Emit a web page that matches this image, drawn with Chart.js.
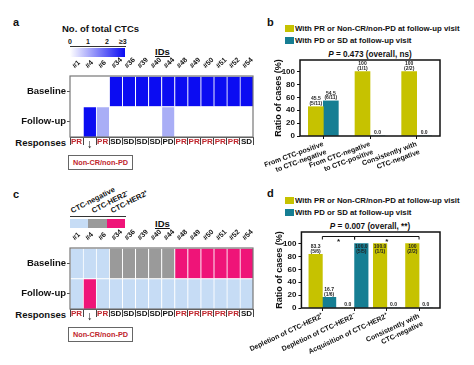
<!DOCTYPE html>
<html>
<head>
<meta charset="utf-8">
<script src="https://cdn.jsdelivr.net/npm/chart.js@4"></script>
<style>
body { margin: 0; background: #fff; font-family: Arial, "Liberation Sans", sans-serif; }
#wrap { position: relative; width: 474px; height: 365px; overflow: hidden; background: #fff; }
canvas { position: absolute; }
.t { position: absolute; font-weight: bold; color: #111; white-space: nowrap; line-height: 1; }
.sq { position: absolute; width: 9px; height: 7px; }
.box { position: absolute; width: 65px; height: 15px; box-sizing: border-box; border: 1px solid #666;
  color: #c0262d; font-weight: bold; font-size: 7.3px; text-align: center; line-height: 13px; }
.rot { transform: rotate(-27deg); transform-origin: 0 100%; }
</style>
</head>
<body>
<div id="wrap">
  <!-- panel a -->
  <div class="t" style="left:13px;top:17px;font-size:11px">a</div>
  <div class="t" style="left:62px;top:24px;font-size:9.5px">No. of total CTCs</div>
  <div class="t" style="left:68px;top:38px;font-size:7px">0</div>
  <div class="t" style="left:86px;top:38px;font-size:7px">1</div>
  <div class="t" style="left:105px;top:38px;font-size:7px">2</div>
  <div class="t" style="left:119px;top:38px;font-size:7px">≥3</div>
  <div style="position:absolute;left:70px;top:46px;width:56px;border-top:1px solid #333"></div>
  <div style="position:absolute;left:70px;top:48px;width:55px;height:9px;background:linear-gradient(to right,#fff,#0b0cf2)"></div>
  <div class="t" style="left:155px;top:47px;font-size:9.5px;text-decoration:underline">IDs</div>
  <div class="t" style="right:408px;top:137.5px;font-size:9.5px">Responses</div>
  <div class="box" style="left:68px;top:155px">Non-CR/non-PD</div>

  <!-- panel c -->
  <div class="t" style="left:13px;top:189px;font-size:11px">c</div>
  <div class="t rot" style="left:73px;top:207px;font-size:7.5px">CTC-negative</div>
  <div class="t rot" style="left:94px;top:207px;font-size:7.5px">CTC-HER2⁻</div>
  <div class="t rot" style="left:113px;top:207px;font-size:7.5px">CTC-HER2⁺</div>
  <div style="position:absolute;left:70px;top:216px;width:56px;border-top:1px solid #333"></div>
  <div style="position:absolute;left:70px;top:219px;width:18px;height:9px;background:#c6dcf5"></div>
  <div style="position:absolute;left:88px;top:219px;width:19px;height:9px;background:#9a9a9a"></div>
  <div style="position:absolute;left:107px;top:219px;width:18px;height:9px;background:#ef1478"></div>
  <div class="t" style="left:155px;top:219px;font-size:9.5px;text-decoration:underline">IDs</div>
  <div class="t" style="right:408px;top:309.5px;font-size:9.5px">Responses</div>
  <div class="box" style="left:68px;top:327px">Non-CR/non-PD</div>

  <!-- panel b -->
  <div class="t" style="left:267px;top:17px;font-size:11px">b</div>
  <div class="sq" style="left:285px;top:25px;background:#c6c200"></div>
  <div class="t" style="left:295px;top:24.5px;font-size:7.8px">With PR or Non-CR/non-PD at follow-up visit</div>
  <div class="sq" style="left:285px;top:37px;background:#167e93"></div>
  <div class="t" style="left:295px;top:37px;font-size:7.8px">With PD or SD at follow-up visit</div>
  <div class="t" style="left:300px;width:140px;text-align:center;top:50.5px;font-size:8.2px"><i>P</i> = 0.473 (overall, ns)</div>

  <!-- panel d -->
  <div class="t" style="left:267px;top:188px;font-size:11px">d</div>
  <div class="sq" style="left:285px;top:197px;background:#c6c200"></div>
  <div class="t" style="left:295px;top:196.5px;font-size:7.8px">With PR or Non-CR/non-PD at follow-up visit</div>
  <div class="sq" style="left:285px;top:209px;background:#167e93"></div>
  <div class="t" style="left:295px;top:209px;font-size:7.8px">With PD or SD at follow-up visit</div>
  <div class="t" style="left:300px;width:140px;text-align:center;top:222.5px;font-size:8.2px"><i>P</i> = 0.007 (overall, **)</div>

  <canvas id="heatA" width="262" height="120" style="left:0;top:55px"></canvas>
  <canvas id="heatC" width="262" height="120" style="left:0;top:227px"></canvas>
  <canvas id="barB" width="234" height="140" style="left:240px;top:45px"></canvas>
  <canvas id="barD" width="234" height="148" style="left:240px;top:217px"></canvas>
</div>
<script>
const ids = ['#1', '#4', '#6', '#34', '#36', '#39', '#40', '#44', '#48', '#49', '#50', '#51', '#52', '#54'];
const responses = ['PR', '↓', 'PR', 'SD', 'SD', 'SD', 'SD', 'PD', 'PR', 'PR', 'PR', 'PR', 'PR', 'SD'];

// panel a: number of total CTCs (3 means >= 3)
const baselineCTCs = [0, 0, 0, 3, 3, 3, 3, 3, 3, 3, 3, 3, 3, 3];
const followupCTCs = [0, 3, 1, 0, 0, 0, 0, 1, 0, 0, 0, 0, 0, 0];

// panel c: CTC subtype
const baselineType = ['neg', 'neg', 'neg', 'her2-', 'her2-', 'her2-', 'her2-', 'her2-', 'her2+', 'her2+', 'her2+', 'her2+', 'her2+', 'her2+'];
const followupType = ['neg', 'her2+', 'neg', 'neg', 'neg', 'neg', 'neg', 'neg', 'neg', 'neg', 'neg', 'neg', 'neg', 'neg'];

// panel b
const changeCats = [['From CTC-positive', 'to CTC-negative'], ['From CTC-negative', 'to CTC-positive'], ['Consistently with', 'CTC-negative']];
const changePR = [45.5, 100, 100];
const changePDSD = [54.5, 0, 0];
const changePRText = [['45.5', '(5/11)'], ['100', '(1/1)'], ['100', '(2/2)']];
const changePDSDText = [['54.5', '(6/11)'], ['0.0'], ['0.0']];

// panel d
const her2Cats = ['Depletion of CTC-HER2⁺', 'Depletion of CTC-HER2⁻', 'Acquisition of CTC-HER2⁺', ['Consistently with', 'CTC-negative']];
const her2PR = [83.3, 0, 100, 100];
const her2PDSD = [16.7, 100, 0, 0];
const her2PRText = [['83.3', '(5/6)'], ['0.0'], ['100.0', '(1/1)'], ['100', '(2/2)']];
const her2PDSDText = [['16.7', '(1/6)'], ['100.0', '(5/5)'], ['0.0'], ['0.0']];
const her2Pairs = [[0, 1], [1, 3]];

const RED = '#c0262d', YELLOW = '#c6c200', TEAL = '#167e93';
const FONT = 'Arial, "Liberation Sans", sans-serif';
Chart.defaults.font.family = FONT;

const ctcColor = n => ['#ffffff', '#a9aef6', '#5a60f4', '#0b0cf2'][Math.min(n, 3)];
const typeColor = {'neg': '#c6dcf5', 'her2-': '#9a9a9a', 'her2+': '#ef1478'};

const boxPlugin = {
  id: 'box',
  afterDraw(chart, args, opts) {
    const {ctx, chartArea: a} = chart;
    ctx.save();
    ctx.strokeStyle = opts.color;
    ctx.lineWidth = opts.width;
    ctx.strokeRect(a.left, a.top, a.right - a.left, a.bottom - a.top);
    ctx.restore();
  }
};

const valueLabelPlugin = {
  id: 'valueLabels',
  afterDatasetsDraw(chart, args, opts) {
    const {ctx} = chart;
    const zero = chart.scales.y.getPixelForValue(0);
    ctx.save();
    ctx.font = 'bold 5px ' + FONT;
    ctx.fillStyle = '#222';
    ctx.textAlign = 'center';
    ctx.textBaseline = 'middle';
    chart.data.datasets.forEach((ds, di) => {
      chart.getDatasetMeta(di).data.forEach((bar, i) => {
        const lines = ds.texts[i];
        const v = ds.data[i].y;
        let y;
        if (v === 0) y = zero - 3;
        else if (v >= opts.insideFrom) y = bar.y + 3.5;
        else y = bar.y - 3 - 4.6 * (lines.length - 1);
        lines.forEach((t, k) => ctx.fillText(t, bar.x, y + k * 4.6));
      });
    });
    ctx.restore();
  }
};

const bracketPlugin = {
  id: 'brackets',
  afterDraw(chart, args, opts) {
    const {ctx, scales: {x, y}} = chart;
    const top = y.getPixelForValue(111);
    ctx.save();
    ctx.strokeStyle = '#111';
    ctx.lineWidth = 1;
    ctx.fillStyle = '#111';
    ctx.font = 'bold 8px ' + FONT;
    ctx.textAlign = 'center';
    ctx.textBaseline = 'middle';
    opts.pairs.forEach(([a, b]) => {
      const x1 = x.getPixelForValue(a), x2 = x.getPixelForValue(b);
      ctx.beginPath();
      ctx.moveTo(x1, top + 3); ctx.lineTo(x1, top); ctx.lineTo(x2, top); ctx.lineTo(x2, top + 3);
      ctx.stroke();
      ctx.fillText('*', (x1 + x2) / 2, top + 5);
    });
    ctx.restore();
  }
};

function heatmap(id, baseColors, followColors) {
  return new Chart(document.getElementById(id), {
    type: 'bar',
    data: {
      labels: ids,
      datasets: [
        {label: 'Follow-up', data: ids.map(() => 1), backgroundColor: followColors},
        {label: 'Baseline', data: ids.map(() => 1), backgroundColor: baseColors}
      ]
    },
    options: {
      responsive: false,
      animation: false,
      devicePixelRatio: 1,
      layout: {padding: {right: 9}},
      datasets: {bar: {barPercentage: 1, categoryPercentage: 1, borderColor: '#fff',
        borderWidth: {left: 1, top: 1, right: 0, bottom: 0}, borderSkipped: false}},
      scales: {
        x: {
          stacked: true,
          grid: {offset: true, drawOnChartArea: false, tickLength: 8, color: '#444'},
          border: {color: '#444'},
          ticks: {
            autoSkip: false, maxRotation: 0, padding: -8,
            font: c => ({size: responses[c.index] === '↓' ? 12 : 8, weight: 'bold'}),
            color: c => responses[c.index] === 'PR' ? RED : '#111',
            callback: (v, i) => responses[i]
          },
          afterFit: s => { s.height = 38; }
        },
        x2: {
          type: 'category', labels: ids, position: 'top', offset: true,
          grid: {display: false}, border: {display: false},
          ticks: {autoSkip: false, minRotation: 45, maxRotation: 45, padding: -2, labelOffset: 3,
            font: {size: 7, weight: 'bold'}, color: '#111'},
          afterFit: s => { s.height = 21; }
        },
        y: {
          stacked: true, min: 0, max: 2,
          afterBuildTicks: s => { s.ticks = [{value: 0.5}, {value: 1.5}]; },
          ticks: {callback: v => v > 1 ? 'Baseline' : 'Follow-up', font: {size: 9.5, weight: 'bold'}, color: '#111', padding: 1},
          grid: {drawOnChartArea: false, tickLength: 3, color: '#555'},
          border: {display: false},
          afterFit: s => { s.width = 70; }
        }
      },
      plugins: {legend: {display: false}, tooltip: {enabled: false}, box: {color: '#777', width: 1.2}}
    },
    plugins: [boxPlugin]
  });
}

function ratioChart(id, cats, pr, pdsd, prText, pdsdText, opt) {
  return new Chart(document.getElementById(id), {
    type: 'bar',
    data: {
      datasets: [
        {label: 'With PR or Non-CR/non-PD at follow-up visit', data: pr.map((v, i) => ({x: i, y: v})), texts: prText, backgroundColor: YELLOW},
        {label: 'With PD or SD at follow-up visit', data: pdsd.map((v, i) => ({x: i, y: v})), texts: pdsdText, backgroundColor: TEAL}
      ]
    },
    options: {
      responsive: false,
      animation: false,
      devicePixelRatio: 1,
      layout: {padding: {left: 33, top: 15, right: 34}},
      datasets: {bar: {barThickness: opt.thick}},
      scales: {
        x: {
          type: 'linear', offset: false, min: opt.min, max: cats.length - 1 - opt.min,
          afterBuildTicks: s => { s.ticks = cats.map((c, i) => ({value: i})); },
          ticks: {autoSkip: false, minRotation: opt.rot, maxRotation: opt.rot, padding: 1,
            font: {size: 7, weight: 'bold'}, color: '#111', callback: v => cats[v]},
          grid: {offset: false, drawOnChartArea: false, tickLength: 3, color: '#111'},
          border: {display: false},
          afterFit: s => { s.height = opt.xh; }
        },
        y: {
          min: 0, max: 118,
          afterBuildTicks: s => { s.ticks = [0, 20, 40, 60, 80, 100].map(v => ({value: v})); },
          ticks: {font: {size: 8, weight: 'bold'}, color: '#111', padding: 2},
          grid: {drawOnChartArea: false, tickLength: 3, color: '#111'},
          border: {display: false},
          title: {display: true, text: 'Ratio of cases (%)', font: {size: 9, weight: 'bold'}, color: '#111', padding: 0},
          afterFit: s => { s.width = 27; }
        }
      },
      plugins: {
        legend: {display: false}, tooltip: {enabled: false},
        box: {color: '#111', width: 1.5},
        valueLabels: {insideFrom: opt.insideFrom},
        brackets: {pairs: opt.pairs}
      }
    },
    plugins: [boxPlugin, valueLabelPlugin, bracketPlugin]
  });
}

heatmap('heatA', baselineCTCs.map(ctcColor), followupCTCs.map(ctcColor));
heatmap('heatC', baselineType.map(t => typeColor[t]), followupType.map(t => typeColor[t]));
ratioChart('barB', changeCats, changePR, changePDSD, changePRText, changePDSDText,
  {thick: 15, min: -0.5, rot: 20, xh: 49, insideFrom: 999, pairs: []});
ratioChart('barD', her2Cats, her2PR, her2PDSD, her2PRText, her2PDSDText,
  {thick: 13.5, min: -0.65, rot: 25, xh: 57, insideFrom: 95, pairs: her2Pairs});
</script>
</body>
</html>
